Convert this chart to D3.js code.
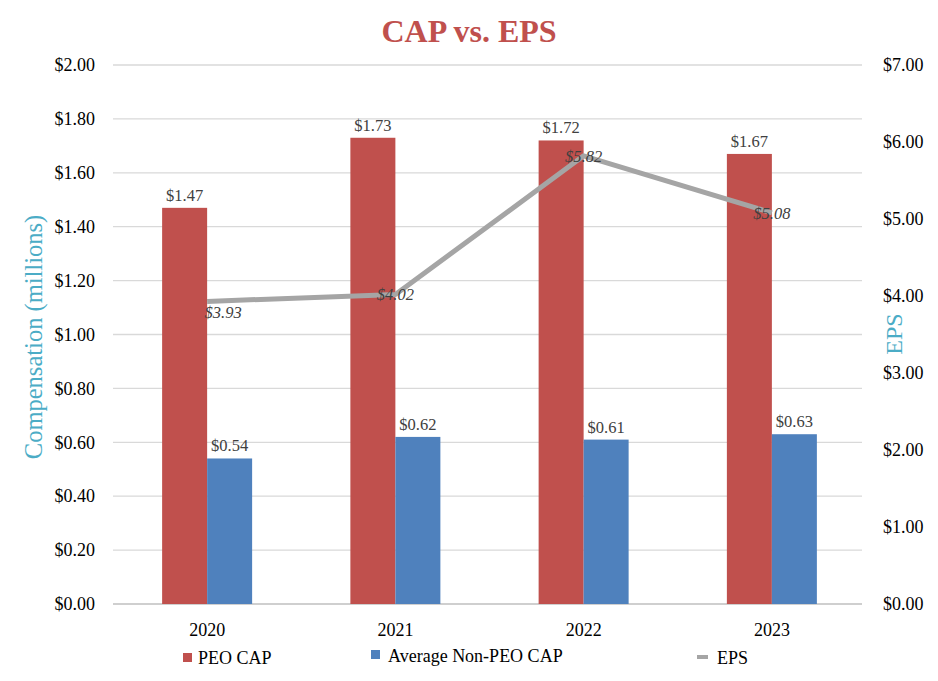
<!DOCTYPE html>
<html><head><meta charset="utf-8">
<script src="https://cdn.jsdelivr.net/npm/d3@7"></script>
<style>body{margin:0;background:#fff} svg text{font-family:'Liberation Serif','Times New Roman',serif}</style>
</head><body>
<svg id="c" width="938" height="681"></svg>
<script>
const years = ["2020","2021","2022","2023"];
const peoCap = [1.47, 1.73, 1.72, 1.67];
const nonPeoCap = [0.54, 0.62, 0.61, 0.63];
const eps = [3.93, 4.02, 5.82, 5.08];
const leftTicks = [0,0.2,0.4,0.6,0.8,1.0,1.2,1.4,1.6,1.8,2.0];
const rightTicks = [0,1,2,3,4,5,6,7];

const svg = d3.select("#c");
const font = "'Liberation Serif','Times New Roman',serif";
const L = 113, R = 866, T = 65, B = 604;
const x = d3.scaleBand().domain(years).range([L, R]);
const yL = d3.scaleLinear().domain([0,2]).range([B,T]);
const yR = d3.scaleLinear().domain([0,7]).range([B,T]);
const barW = 45;

// title
svg.append("text").attr("x",469).attr("y",42).attr("text-anchor","middle")
  .style("font-family",font).attr("font-weight","bold").attr("font-size",32)
  .attr("fill","#C0504D").text("CAP vs. EPS");

// gridlines
svg.append("g").selectAll("line").data(leftTicks).join("line")
  .attr("x1",L).attr("x2",R-4).attr("y1",d=>yL(d)).attr("y2",d=>yL(d))
  .attr("stroke",d=>d===0?"#BFBFBF":"#D9D9D9").attr("stroke-width",1.3);

// left axis labels
const axL = d3.axisLeft(yL).tickValues(leftTicks).tickFormat(d=>"$"+d.toFixed(2)).tickSize(0).tickPadding(18);
const gL = svg.append("g").attr("transform",`translate(${L},0)`).call(axL);
gL.select(".domain").remove();
gL.selectAll("text").style("font-family",font).attr("font-size",18).attr("fill","#000");

// right axis labels
const axR = d3.axisRight(yR).tickValues(rightTicks).tickFormat(d=>"$"+d.toFixed(2)).tickSize(0).tickPadding(17);
const gR = svg.append("g").attr("transform",`translate(${R},0)`).call(axR);
gR.select(".domain").remove();
gR.selectAll("text").style("font-family",font).attr("font-size",18).attr("fill","#000");

// bottom axis labels
const axB = d3.axisBottom(x).tickSize(0).tickPadding(19);
const gB = svg.append("g").attr("transform",`translate(0,${B})`).call(axB);
gB.select(".domain").remove();
gB.selectAll("text").style("font-family",font).attr("font-size",18).attr("fill","#000");

// axis titles
svg.append("text").attr("transform",`translate(42,337) rotate(-90)`).attr("text-anchor","middle")
  .style("font-family",font).attr("font-size",24.5).attr("fill","#4BACC6").text("Compensation (millions)");
svg.append("text").attr("transform",`translate(902,334) rotate(-90)`).attr("text-anchor","middle")
  .style("font-family",font).attr("font-size",24).attr("fill","#4BACC6").text("EPS");

const cx = d => x(d) + x.bandwidth()/2;

// bars
svg.append("g").selectAll("rect").data(years).join("rect")
  .attr("x",(d)=>cx(d)-barW).attr("width",barW)
  .attr("y",(d,i)=>yL(peoCap[i])).attr("height",(d,i)=>B-yL(peoCap[i]))
  .attr("fill","#C0504D");
svg.append("g").selectAll("rect").data(years).join("rect")
  .attr("x",(d)=>cx(d)).attr("width",barW)
  .attr("y",(d,i)=>yL(nonPeoCap[i])).attr("height",(d,i)=>B-yL(nonPeoCap[i]))
  .attr("fill","#4F81BD");

// bar labels
svg.append("g").selectAll("text").data(years).join("text")
  .attr("x",d=>cx(d)-barW/2).attr("y",(d,i)=>yL(peoCap[i])-7).attr("text-anchor","middle")
  .style("font-family",font).attr("font-size",16.5).attr("fill","#404040")
  .text((d,i)=>"$"+peoCap[i].toFixed(2));
svg.append("g").selectAll("text").data(years).join("text")
  .attr("x",d=>cx(d)+barW/2).attr("y",(d,i)=>yL(nonPeoCap[i])-7).attr("text-anchor","middle")
  .style("font-family",font).attr("font-size",16.5).attr("fill","#404040")
  .text((d,i)=>"$"+nonPeoCap[i].toFixed(2));

// EPS line
const line = d3.line().x((d,i)=>cx(years[i])).y(d=>yR(d));
svg.append("path").datum(eps).attr("d",line).attr("fill","none")
  .attr("stroke","#A5A5A5").attr("stroke-width",5).attr("stroke-linejoin","round");

svg.append("g").selectAll("text").data(eps).join("text")
  .attr("x",(d,i)=>cx(years[i]) + (i===0?16:0))
  .attr("y",(d,i)=>yR(d) + (i===0?17:6)).attr("text-anchor","middle")
  .style("font-family",font).attr("font-style","italic").attr("font-size",16.5).attr("fill","#404040")
  .text(d=>"$"+d.toFixed(2));

// legend
const lg = svg.append("g").attr("font-size",18).attr("fill","#000");
lg.append("rect").attr("x",183).attr("y",653).attr("width",9).attr("height",9).attr("fill","#C0504D");
lg.append("text").style("font-family",font).attr("x",198).attr("y",664).text("PEO CAP");
lg.append("rect").attr("x",371).attr("y",650).attr("width",9).attr("height",9).attr("fill","#4F81BD");
lg.append("text").style("font-family",font).attr("x",388).attr("y",662).text("Average Non-PEO CAP");
lg.append("line").attr("x1",697).attr("x2",708).attr("y1",657).attr("y2",657).attr("stroke","#A5A5A5").attr("stroke-width",4);
lg.append("text").style("font-family",font).attr("x",717).attr("y",664).text("EPS");
</script>
</body></html>
